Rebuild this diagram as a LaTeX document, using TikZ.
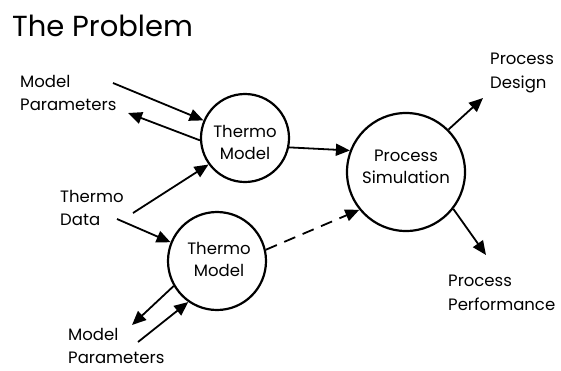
\documentclass[tikz,border=0pt]{standalone}
\usepackage{fontspec}
\setmainfont{Poppins}
\usetikzlibrary{arrows.meta}
\begin{document}
\begin{tikzpicture}[x=1pt,y=-1pt,
  lbl/.style={anchor=west,align=left,inner sep=0pt,font=\fontsize{16.5}{23.5}\selectfont},
  ctext/.style={align=center,inner sep=0pt,font=\fontsize{16.5}{22}\selectfont},
  bubble/.style={draw,circle,line width=2.2pt,inner sep=0pt},
  arr/.style={line width=1.8pt,-{Triangle[length=14pt,width=12pt]}},
]
\useasboundingbox (0,0) rectangle (561,370);
\node[anchor=base west,inner sep=0pt,font=\fontsize{29}{32}\selectfont] (title) at (12,36) {The Problem};

\node[bubble,minimum size=88pt] (tm1) at (245,138) {};
\node[bubble,minimum size=98pt] (tm2) at (217,261) {};
\node[bubble,minimum size=118pt] (ps) at (406,172) {};

\node[ctext] (tm1t) at (245,142) {Thermo\\Model};
\node[ctext] (tm2t) at (219,259) {Thermo\\Model};
\node[ctext] (pst) at (406,167) {Process\\Simulation};

\node[lbl] (mp1) at (20,93) {Model\\Parameters};
\node[lbl] (td) at (60,208) {Thermo\\Data};
\node[lbl,font=\fontsize{16.5}{22.5}\selectfont] (mp2) at (68,346) {Model\\Parameters};
\node[lbl] (pd) at (490,73) {Process\\Design};
\node[lbl] (pp) at (448,293) {Process\\Performance};

\coordinate (a1s) at (113,83);
\coordinate (a2e) at (128,113);
\coordinate (a3s) at (133,213);
\coordinate (a4s) at (117,219);
\coordinate (a5e) at (132,325);
\coordinate (a6s) at (138,342);
\coordinate (a9e) at (483,98);
\coordinate (a10e) at (486,255);

\draw[arr] (a1s) -- (tm1.157);
\draw[arr] (tm1.183) -- (a2e);
\draw[arr] (a3s) -- (tm1.216);
\draw[arr] (a4s) -- (tm2.158);
\draw[arr] (tm2.210) -- (a5e);
\draw[arr] (a6s) -- (tm2.235);
\draw[arr] (tm1.348) -- (ps.159);
\draw[arr,dash pattern=on 12pt off 8pt] (tm2.13) -- (ps.219);
\draw[arr] (ps.45) -- (a9e);
\draw[arr] (ps.322) -- (a10e);
\end{tikzpicture}
\end{document}
